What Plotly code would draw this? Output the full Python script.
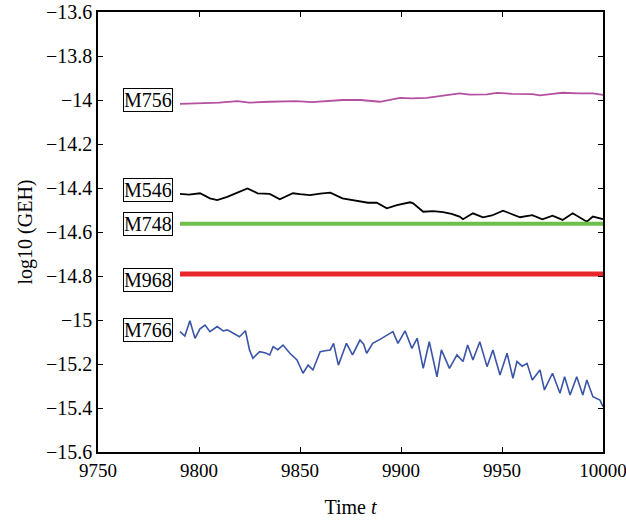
import plotly.graph_objects as go

# ---- data ----
t_m756 = [9790.6, 9800, 9810, 9819, 9825, 9835, 9848, 9856, 9864, 9871, 9880, 9889.6, 9899.5, 9905, 9912.8, 9919, 9929, 9934, 9942.6, 9947.5, 9955, 9965, 9968.8, 9975, 9980, 9988, 9995, 10000]
y_m756 = [-14.018, -14.015, -14.012, -14.005, -14.012, -14.008, -14.005, -14.010, -14.004, -14.000, -14.000, -14.008, -13.990, -13.993, -13.990, -13.983, -13.970, -13.976, -13.974, -13.968, -13.972, -13.973, -13.979, -13.972, -13.967, -13.970, -13.970, -13.977]

t_m546 = [9790.6, 9795, 9800.5, 9805.4, 9809, 9814, 9819, 9824, 9829, 9835, 9840, 9846.5, 9850, 9855, 9860, 9865, 9871, 9878, 9883.7, 9888, 9893, 9898, 9904.5, 9906, 9911, 9916, 9920.8, 9925, 9929, 9930.7, 9935.6, 9940.6, 9945, 9950.5, 9955, 9958.9, 9965, 9970, 9975, 9980, 9985, 9992, 9995, 10000]
y_m546 = [-14.427, -14.430, -14.424, -14.447, -14.455, -14.440, -14.421, -14.402, -14.424, -14.427, -14.451, -14.424, -14.428, -14.432, -14.426, -14.421, -14.447, -14.458, -14.467, -14.467, -14.492, -14.478, -14.465, -14.470, -14.508, -14.505, -14.510, -14.518, -14.530, -14.542, -14.515, -14.533, -14.525, -14.503, -14.520, -14.533, -14.523, -14.542, -14.526, -14.545, -14.515, -14.553, -14.530, -14.542]

t_m748 = [9790.6, 9820, 9850, 9880, 9910, 9940, 9970, 10000]
y_m748 = [-14.562, -14.562, -14.562, -14.562, -14.562, -14.562, -14.562, -14.562]

t_m968 = [9790.6, 9820, 9850, 9880, 9910, 9940, 9970, 10000]
y_m968 = [-14.791, -14.791, -14.791, -14.791, -14.791, -14.791, -14.791, -14.791]

t_m766 = [9790.6, 9793, 9795.5, 9798, 9800.5, 9803, 9805.4, 9809, 9812, 9814, 9817, 9820, 9823, 9825, 9826.7, 9830, 9833, 9835, 9836.7, 9839, 9841.6, 9845, 9848.5, 9851.5, 9854, 9856.4, 9858, 9860, 9862.5, 9865, 9866.6, 9869, 9873, 9876, 9879.7, 9881.5, 9883, 9886, 9889.6, 9893, 9896, 9898.5, 9902, 9905.4, 9908, 9911, 9914, 9917.8, 9920, 9924, 9927.7, 9930.7, 9933, 9935.6, 9939, 9942.6, 9945.5, 9949, 9952.5, 9955.4, 9957.4, 9960, 9962.4, 9965, 9968.8, 9971, 9975, 9978.7, 9981, 9983.7, 9987, 9990, 9992, 9995, 9998.5, 10000]
y_m766 = [-15.053, -15.073, -15.003, -15.083, -15.040, -15.023, -15.053, -15.030, -15.050, -15.045, -15.060, -15.076, -15.049, -15.136, -15.174, -15.144, -15.150, -15.159, -15.121, -15.135, -15.114, -15.151, -15.182, -15.242, -15.205, -15.227, -15.190, -15.144, -15.140, -15.136, -15.106, -15.205, -15.106, -15.159, -15.091, -15.110, -15.151, -15.106, -15.088, -15.070, -15.053, -15.106, -15.049, -15.129, -15.083, -15.220, -15.099, -15.258, -15.136, -15.220, -15.159, -15.189, -15.114, -15.182, -15.099, -15.212, -15.136, -15.250, -15.151, -15.265, -15.189, -15.210, -15.197, -15.273, -15.227, -15.318, -15.242, -15.333, -15.258, -15.341, -15.258, -15.341, -15.273, -15.349, -15.364, -15.394]

labels = ["M756", "M546", "M748", "M968", "M766"]
label_y = [-14.0, -14.409, -14.564, -14.818, -15.045]

x_ticks = [9750, 9800, 9850, 9900, 9950, 10000]
y_ticks = [-13.6, -13.8, -14.0, -14.2, -14.4, -14.6, -14.8, -15.0, -15.2, -15.4, -15.6]

FONT = "Liberation Serif"

fig = go.Figure()
fig.add_trace(go.Scatter(x=t_m756, y=y_m756, mode="lines", line=dict(color="#b4509f", width=1.8), showlegend=False))
fig.add_trace(go.Scatter(x=t_m546, y=y_m546, mode="lines", line=dict(color="#000000", width=1.8), showlegend=False))
fig.add_trace(go.Scatter(x=t_m748, y=y_m748, mode="lines", line=dict(color="#6cbf4a", width=4), showlegend=False))
fig.add_trace(go.Scatter(x=t_m968, y=y_m968, mode="lines", line=dict(color="#e8262a", width=5), showlegend=False))
fig.add_trace(go.Scatter(x=t_m766, y=y_m766, mode="lines", line=dict(color="#3a55a6", width=1.6), showlegend=False))

for lab, yv in zip(labels, label_y):
    fig.add_annotation(x=9787, y=yv, xref="x", yref="y", text=lab, showarrow=False,
                       xanchor="right", yanchor="middle",
                       font=dict(family=FONT, size=20, color="black"),
                       bgcolor="white", bordercolor="black", borderwidth=1, borderpad=0)

axis_common = dict(showline=True, linecolor="black", linewidth=1.5, mirror="ticks",
                   ticks="inside", ticklen=5, tickwidth=1.2, tickcolor="black",
                   showgrid=False, zeroline=False, ticklabeloverflow="allow")

fig.update_xaxes(range=[9750, 10000], tickvals=x_ticks, ticktext=[str(v) for v in x_ticks],
                 tickfont=dict(family=FONT, size=19, color="black"),
                 title=dict(text="Time <i>t</i>", font=dict(family=FONT, size=20, color="black"), standoff=20),
                 **axis_common)
fig.update_yaxes(range=[-15.6, -13.6], tickvals=y_ticks,
                 ticktext=[("\u2212" + ("%g" % abs(v))) for v in y_ticks],
                 tickfont=dict(family=FONT, size=20, color="black"),
                 title=dict(text="log10 (GEH)", font=dict(family=FONT, size=20, color="black"), standoff=8),
                 **axis_common)

fig.update_layout(width=626, height=523, margin=dict(l=98, r=23, t=12, b=71, autoexpand=False),
                  plot_bgcolor="white", paper_bgcolor="white")

fig.write_html("out.html", config={"displayModeBar": False},
               post_script="document.body.style.margin='0';document.body.style.padding='0';")
